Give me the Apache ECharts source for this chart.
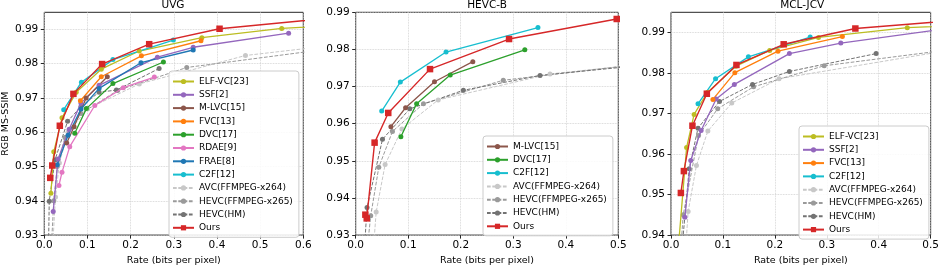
<!DOCTYPE html>
<html><head><meta charset="utf-8">
<script src="https://cdn.jsdelivr.net/npm/echarts@6/dist/echarts.min.js"></script>
<style>html,body{margin:0;padding:0;background:#fff}#c{width:942px;height:271px}</style>
</head><body><div id="c"></div>
<script>
// ---------- data: [rate (bpp), RGB MS-SSIM] ----------
var panelTitles = ['UVG', 'HEVC-B', 'MCL-JCV'];
var yTicksUvg = [0.93, 0.94, 0.95, 0.96, 0.97, 0.98, 0.99];
var yTicksHevcB = [0.93, 0.94, 0.95, 0.96, 0.97, 0.98, 0.99];
var yTicksMcl = [0.94, 0.95, 0.96, 0.97, 0.98, 0.99];

// UVG
var uvgElf  = [[0.0154,0.9422],[0.022,0.9543],[0.041,0.9642],[0.074,0.9717],[0.132,0.9784],[0.220,0.9837],[0.365,0.9876],[0.550,0.9903],[0.70,0.9913]];
var uvgSsf  = [[0.0207,0.9369],[0.032,0.9522],[0.0576,0.9609],[0.085,0.9685],[0.127,0.9737],[0.262,0.9819],[0.345,0.9848],[0.566,0.9889]];
var uvgMlvc = [[0.052,0.9569],[0.069,0.9616],[0.097,0.9700],[0.146,0.9762]];
var uvgFvc  = [[0.0837,0.9692],[0.132,0.9762],[0.225,0.9823],[0.363,0.9867]];
var uvgDvc  = [[0.0706,0.9597],[0.0975,0.9669],[0.159,0.9742],[0.276,0.9805]];
var uvgRdae = [[0.034,0.9445],[0.041,0.9483],[0.059,0.9558],[0.117,0.9678],[0.183,0.9730],[0.255,0.9761]];
var uvgFrae = [[0.030,0.9505],[0.055,0.9591],[0.085,0.9668],[0.127,0.9728],[0.224,0.9803],[0.345,0.9840]];
var uvgC2f  = [[0.045,0.9666],[0.086,0.9746],[0.159,0.9812],[0.299,0.9869]];
var uvgAvc  = [[0.020,0.928],[0.026,0.9411],[0.035,0.9510],[0.055,0.9600],[0.100,0.9668],[0.220,0.9741],[0.466,0.9824],[0.70,0.9858]];
var uvgX265 = [[0.017,0.928],[0.022,0.9400],[0.030,0.9500],[0.048,0.9585],[0.085,0.9655],[0.170,0.9722],[0.330,0.9789],[0.70,0.9850]];
var uvgHm   = [[0.010,0.928],[0.0115,0.9399],[0.025,0.9520],[0.054,0.9632],[0.085,0.9675],[0.127,0.9717],[0.167,0.9723],[0.266,0.9786]];
var uvgOurs = [[0.0138,0.9467],[0.0184,0.9503],[0.036,0.9619],[0.0675,0.9712],[0.134,0.9799],[0.243,0.9857],[0.406,0.9902],[0.70,0.9938]];

// HEVC-B
var hbMlvc = [[0.067,0.9592],[0.095,0.9643],[0.150,0.9713],[0.223,0.9767]];
var hbDvc  = [[0.086,0.9565],[0.116,0.9654],[0.180,0.9731],[0.322,0.9799]];
var hbC2f  = [[0.0495,0.9634],[0.085,0.9712],[0.172,0.9793],[0.347,0.9859]];
var hbAvc  = [[0.033,0.925],[0.039,0.9362],[0.056,0.9490],[0.088,0.9586],[0.157,0.9664],[0.370,0.9734],[0.60,0.9768]];
var hbX265 = [[0.021,0.925],[0.0286,0.9352],[0.044,0.9483],[0.070,0.9579],[0.129,0.9654],[0.281,0.9717],[0.60,0.9770]];
var hbHm   = [[0.016,0.925],[0.0216,0.9374],[0.051,0.9558],[0.103,0.9640],[0.205,0.9690],[0.351,0.9730],[0.60,0.9765]];
var hbOurs = [[0.0184,0.9355],[0.021,0.9345],[0.036,0.9549],[0.062,0.9629],[0.1415,0.9747],[0.292,0.9828],[0.497,0.9882]];

// MCL-JCV
var mcElf  = [[0.016,0.9398],[0.030,0.9616],[0.0445,0.9698],[0.070,0.9752],[0.125,0.9817],[0.190,0.9856],[0.284,0.9888],[0.455,0.9912],[0.60,0.9920]];
var mcSsf  = [[0.0267,0.9444],[0.038,0.9584],[0.058,0.9658],[0.087,0.9736],[0.122,0.9772],[0.228,0.9848],[0.327,0.9874],[0.55,0.9913]];
var mcFvc  = [[0.0807,0.9735],[0.123,0.9801],[0.206,0.9854],[0.330,0.9890]];
var mcC2f  = [[0.052,0.9724],[0.0858,0.9786],[0.149,0.9840],[0.268,0.9889]];
var mcAvc  = [[0.025,0.930],[0.033,0.9458],[0.049,0.9572],[0.071,0.9657],[0.117,0.9726],[0.208,0.9786],[0.60,0.9870]];
var mcX265 = [[0.018,0.935],[0.0235,0.9450],[0.053,0.9646],[0.090,0.9712],[0.159,0.9766],[0.295,0.9818],[0.60,0.9868]];
var mcHm   = [[0.020,0.935],[0.035,0.9564],[0.052,0.9664],[0.0934,0.9730],[0.157,0.9772],[0.228,0.9804],[0.395,0.9848]];
var mcOurs = [[0.019,0.9504],[0.0248,0.9558],[0.0413,0.9670],[0.069,0.9749],[0.126,0.9820],[0.217,0.9871],[0.355,0.9910],[0.60,0.9935]];

// ---------- styling ----------
var styles = {
  'ELF-VC[23]': {c:'#bcbd22'}, 'SSF[2]': {c:'#9467bd'}, 'M-LVC[15]': {c:'#8c564b'},
  'FVC[13]': {c:'#ff7f0e'}, 'DVC[17]': {c:'#2ca02c'}, 'RDAE[9]': {c:'#e377c2'},
  'FRAE[8]': {c:'#1f77b4'}, 'C2F[12]': {c:'#17becf'},
  'AVC(FFMPEG-x264)': {c:'#c8c8c8', dash:true}, 'HEVC(FFMPEG-x265)': {c:'#9a9a9a', dash:true},
  'HEVC(HM)': {c:'#737373', dash:true}, 'Ours': {c:'#d62728', sq:true}
};
var panels = [
  {series:[['ELF-VC[23]',uvgElf],['SSF[2]',uvgSsf],['M-LVC[15]',uvgMlvc],['FVC[13]',uvgFvc],['DVC[17]',uvgDvc],['RDAE[9]',uvgRdae],['FRAE[8]',uvgFrae],['C2F[12]',uvgC2f],['AVC(FFMPEG-x264)',uvgAvc],['HEVC(FFMPEG-x265)',uvgX265],['HEVC(HM)',uvgHm],['Ours',uvgOurs]],
   left:42.7, width:260.6, xmax:0.6, ymin:0.93, ymax:0.995, yticks:yTicksUvg, legend:{left:169, top:71}},
  {series:[['M-LVC[15]',hbMlvc],['DVC[17]',hbDvc],['C2F[12]',hbC2f],['AVC(FFMPEG-x264)',hbAvc],['HEVC(FFMPEG-x265)',hbX265],['HEVC(HM)',hbHm],['Ours',hbOurs]],
   left:355.7, width:262.6, xmax:0.5, ymin:0.93, ymax:0.99, yticks:yTicksHevcB, legend:{left:483, top:136}},
  {series:[['ELF-VC[23]',mcElf],['SSF[2]',mcSsf],['FVC[13]',mcFvc],['C2F[12]',mcC2f],['AVC(FFMPEG-x264)',mcAvc],['HEVC(FFMPEG-x265)',mcX265],['HEVC(HM)',mcHm],['Ours',mcOurs]],
   left:671, width:262.3, xmax:0.5, ymin:0.94, ymax:0.995, yticks:yTicksMcl, legend:{left:799, top:126}}
];

var FONT = 'DejaVu Sans';
var option = {animation:false, backgroundColor:'#fff', title:[], grid:[], xAxis:[], yAxis:[], legend:[], series:[]};
panels.forEach(function(p, i){
  option.title.push({text:panelTitles[i], left:p.left + p.width/2, top:0, padding:0, textAlign:'center',
    textStyle:{fontFamily:FONT, fontSize:10.5, fontWeight:'normal', color:'#000'}});
  option.grid.push({left:p.left, top:12.3, width:p.width, height:229.4, show:true, borderColor:'#262626', borderWidth:1, backgroundColor:'transparent'});
  option.xAxis.push({type:'value', gridIndex:i, min:0, max:p.xmax, interval:0.1,
    name:'Rate (bits per pixel)', nameLocation:'middle', nameGap:19,
    nameTextStyle:{fontFamily:FONT, fontSize:9.5, color:'#000'},
    axisLine:{show:false}, axisTick:{show:true, length:3.5, lineStyle:{color:'#262626'}},
    axisLabel:{fontFamily:FONT, fontSize:10.5, color:'#000', margin:5, formatter:function(v){return v.toFixed(1);}},
    splitLine:{show:true, lineStyle:{color:'#cccccc', type:'dotted', width:0.8}}});
  option.yAxis.push({type:'value', gridIndex:i, min:p.ymin, max:p.ymax,
    name: i===0 ? 'RGB MS-SSIM' : '', nameLocation:'middle', nameGap:33,
    nameTextStyle:{fontFamily:FONT, fontSize:9.5, color:'#000'},
    axisLine:{show:false},
    axisTick:{show:true, length:3.5, lineStyle:{color:'#262626'}, customValues:p.yticks},
    axisLabel:{fontFamily:FONT, fontSize:10.5, color:'#000', margin:6, customValues:p.yticks, formatter:function(v){return v.toFixed(2);}},
    splitLine:{show:true, lineStyle:{color:'#cccccc', type:'dotted', width:0.8}}});
  option.legend.push({left:p.legend.left, top:p.legend.top, orient:'vertical', data:p.series.map(function(s){return s[0];}),
    itemWidth:21, itemHeight:6.5, itemGap:4.3, padding:[6,6,5,3], selectedMode:false,
    backgroundColor:'rgba(255,255,255,0.85)', borderColor:'#cccccc', borderWidth:1, borderRadius:3,
    textStyle:{fontFamily:FONT, fontSize:9, color:'#000'}});
  p.series.forEach(function(s){
    var st = styles[s[0]];
    option.series.push({type:'line', name:s[0], xAxisIndex:i, yAxisIndex:i, data:s[1],
      symbol: st.sq ? 'rect' : 'circle', symbolSize: st.sq ? 6.5 : 5, showSymbol:true,
      lineStyle:{color:st.c, width: st.dash ? 1 : (st.sq ? 1.4 : 1.3), type: st.dash ? [3.7,1.6] : 'solid'},
      itemStyle:{color:st.c}, z: st.sq ? 5 : (st.dash ? 2 : 3), clip:true});
  });
});
var chart = echarts.init(document.getElementById('c'), null, {renderer:'canvas'});
chart.setOption(option);
</script></body></html>
